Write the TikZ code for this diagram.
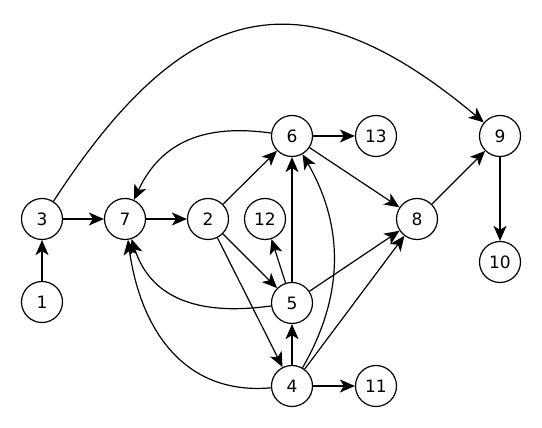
\documentclass[tikz,border=0pt]{standalone}
\usepackage{fontspec}
\setmainfont{DejaVu Sans}
\usetikzlibrary{arrows.meta}

\begin{document}
\begin{tikzpicture}[x=1pt,y=1pt,
    vertex/.style={draw,circle,line width=1.2pt,minimum size=41pt,inner sep=0pt,font=\fontsize{17}{20}\selectfont},
    edge/.style={line width=1.2pt,-{Stealth[length=15pt,width=13pt,inset=4pt]}}]
    \useasboundingbox (0,0) rectangle (542,428);

    % nodes of the graph
    \node[vertex] (n1) at (42,126) {1};
    \node[vertex] (n3) at (42,209) {3};
    \node[vertex] (n7) at (125,209) {7};
    \node[vertex] (n2) at (208,209) {2};
    \node[vertex] (n12) at (265,209) {12};
    \node[vertex] (n6) at (292,292) {6};
    \node[vertex] (n13) at (376,292) {13};
    \node[vertex] (n5) at (292,125) {5};
    \node[vertex] (n4) at (292,42) {4};
    \node[vertex] (n11) at (376,42) {11};
    \node[vertex] (n8) at (417,209) {8};
    \node[vertex] (n9) at (500,292) {9};
    \node[vertex] (n10) at (500,166) {10};

    % straight edges
    \draw[edge] (n1) -- (n3);
    \draw[edge] (n3) -- (n7);
    \draw[edge] (n7) -- (n2);
    \draw[edge] (n2) -- (n6);
    \draw[edge] (n2) -- (n5);
    \draw[edge] (n2) -- (n4);
    \draw[edge] (n6) -- (n13);
    \draw[edge] (n6) -- (n8);
    \draw[edge] (n5) -- (n12);
    \draw[edge] (n5) -- (n6);
    \draw[edge] (n5) -- (n8);
    \draw[edge] (n4) -- (n5);
    \draw[edge] (n4) -- (n8);
    \draw[edge] (n4) -- (n11);
    \draw[edge] (n8) -- (n9);
    \draw[edge] (n9) -- (n10);

    % curved edges
    \draw[edge] (n3) to[out=57,in=140,looseness=1.4] (n9);
    \draw[edge] (n6) to[out=172,in=65,looseness=1.1] (n7);
    \draw[edge] (n5) to[out=188,in=-72,looseness=1.1] (n7);
    \draw[edge] (n4) to[out=185,in=-82,looseness=1.1] (n7);
    \draw[edge] (n4) to[out=60,in=-60] (n6);
\end{tikzpicture}
\end{document}
